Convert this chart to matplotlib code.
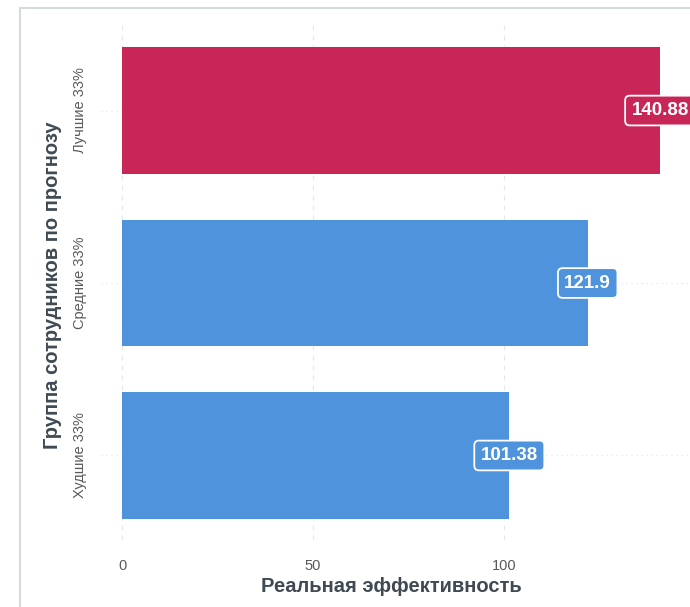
import matplotlib.pyplot as plt
from matplotlib.patches import Rectangle

plt.rcParams['font.family'] = ['Liberation Sans', 'DejaVu Sans']

# data
groups = ['Худшие 33%', 'Средние 33%', 'Лучшие 33%']
values = [101.38, 121.9, 140.88]
labels = ['101.38', '121.9', '140.88']
colors = ['#4f93dc', '#4f93dc', '#c72656']
xticks = [0, 50, 100]

W, H = 690, 607
fig = plt.figure(figsize=(W / 100, H / 100), dpi=100)

# outer frame of the screenshot
fig.patches.append(Rectangle((20 / W, -0.1), 1.2, (H - 8) / H + 0.1,
                             transform=fig.transFigure, fill=False,
                             edgecolor='#d5dadd', linewidth=1.5))

# axes placed in pixels, right side runs off the picture
left, right, top, bottom = 101.0, 700.0, 20, 540
ax = fig.add_axes([left / W, 1 - bottom / H, (right - left) / W, (bottom - top) / H])
ax.set_xlim(-5.5, 151.3)
ax.set_ylim(-0.49, 2.525)

ypos = range(len(groups))
ax.barh(ypos, values, height=0.736, color=colors, zorder=2)

for y, v, t, c in zip(ypos, values, labels, colors):
    ax.text(v, y, t, ha='center', va='center', color='white', fontsize=13.5,
            fontweight='bold', zorder=4, clip_on=False,
            bbox=dict(boxstyle='round,pad=0.34,rounding_size=0.25', facecolor=c,
                      edgecolor='white', linewidth=1.3))

ax.set_yticks(list(ypos))
ax.set_yticklabels(groups, rotation=90, va='center', fontsize=10.5, color='#5a5a5a')
ax.set_xticks(xticks)
ax.set_xticklabels([str(x) for x in xticks], fontsize=10.5, color='#5a5a5a')
ax.tick_params(length=0, pad=14)
ax.tick_params(axis='y', pad=10)

for x in xticks:
    ax.axvline(x, color='#e8e8e8', linestyle=(0, (4, 4)), linewidth=0.9, zorder=0)
for y in ypos:
    ax.axhline(y, color='#e8e8e8', linestyle=(0, (1, 3)), linewidth=0.9, zorder=0)

for s in ax.spines.values():
    s.set_visible(False)

ax.set_xlabel('Реальная эффективность', fontsize=14.5, fontweight='bold',
              color='#3f4a52')
ax.xaxis.set_label_coords((391 - left) / (right - left), -0.071)
ax.set_ylabel('Группа сотрудников по прогнозу', fontsize=14.5, fontweight='bold',
              color='#3f4a52')
ax.yaxis.set_label_coords((62 - left) / (right - left), (bottom - 285) / (bottom - top))

fig.savefig('out.png', dpi=100)
